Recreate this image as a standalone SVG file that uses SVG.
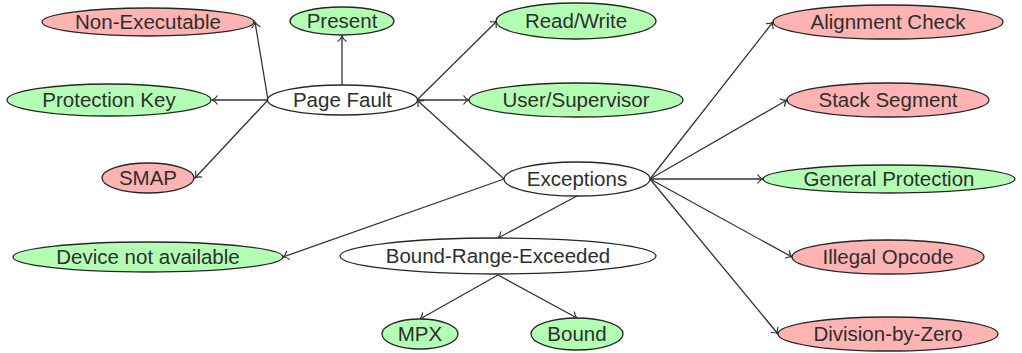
<svg xmlns="http://www.w3.org/2000/svg" width="1022" height="353" viewBox="0 0 1022 353">
<style>
.n ellipse{stroke:#262626;stroke-width:1.3}
.w ellipse{fill:#ffffff}
.r ellipse{fill:#ffb3b3}
.g ellipse{fill:#b3ffb3}
text{font-family:"Liberation Sans",Arial,sans-serif;font-size:20.5px;fill:#2e2e2e;text-anchor:middle}
#edges line{stroke:#333333;stroke-width:1.3;marker-end:url(#ah)}
</style>
<defs>
<marker id="ah" markerUnits="userSpaceOnUse" viewBox="-7 -5 9 10" refX="0" refY="0" markerWidth="9" markerHeight="10" orient="auto" overflow="visible">
<path d="M-5.5,-4.5 C-3.8,-1.8 -1.6,-0.5 0,0 C-1.6,0.5 -3.8,1.8 -5.5,4.5" fill="none" stroke="#333333" stroke-width="1.2"/>
</marker>
</defs>
<g id="edges">
<line x1="268" y1="100" x2="255" y2="22"/>
<line x1="268" y1="100" x2="212" y2="100"/>
<line x1="268" y1="100" x2="195" y2="178"/>
<line x1="342" y1="85" x2="342" y2="36"/>
<line x1="417" y1="100" x2="497" y2="21"/>
<line x1="417" y1="100" x2="469" y2="100"/>
<line x1="504" y1="179" x2="417" y2="100"/>
<line x1="504" y1="179" x2="283" y2="257"/>
<line x1="577" y1="196" x2="498" y2="238"/>
<line x1="650" y1="179" x2="773" y2="22"/>
<line x1="650" y1="179" x2="787" y2="100"/>
<line x1="650" y1="179" x2="763" y2="179"/>
<line x1="650" y1="179" x2="792" y2="257"/>
<line x1="650" y1="179" x2="778" y2="334"/>
<line x1="498" y1="275" x2="420" y2="319"/>
<line x1="498" y1="275" x2="577" y2="318"/>
</g>
<g id="non-executable" class="n r"><ellipse cx="148" cy="22" rx="106" ry="14"/><text x="148" y="29">Non-Executable</text></g>
<g id="present" class="n g"><ellipse cx="342" cy="21" rx="52" ry="14"/><text x="342" y="28">Present</text></g>
<g id="page-fault" class="n w"><ellipse cx="342.5" cy="100" rx="75" ry="15"/><text x="342.5" y="107">Page Fault</text></g>
<g id="protection-key" class="n g"><ellipse cx="109" cy="100" rx="102" ry="16"/><text x="109" y="107">Protection Key</text></g>
<g id="smap" class="n r"><ellipse cx="148" cy="178" rx="46" ry="15"/><text x="148" y="185">SMAP</text></g>
<g id="read-write" class="n g"><ellipse cx="576" cy="21" rx="80" ry="18"/><text x="576" y="28">Read/Write</text></g>
<g id="user-supervisor" class="n g"><ellipse cx="576" cy="100" rx="107" ry="17"/><text x="576" y="107">User/Supervisor</text></g>
<g id="exceptions" class="n w"><ellipse cx="577" cy="179" rx="73" ry="17"/><text x="577" y="186">Exceptions</text></g>
<g id="alignment-check" class="n r"><ellipse cx="888" cy="22" rx="115" ry="17"/><text x="888" y="29">Alignment Check</text></g>
<g id="stack-segment" class="n r"><ellipse cx="888" cy="100" rx="101" ry="17"/><text x="888" y="107">Stack Segment</text></g>
<g id="general-protection" class="n g"><ellipse cx="889" cy="179" rx="126" ry="14"/><text x="889" y="186">General Protection</text></g>
<g id="illegal-opcode" class="n r"><ellipse cx="888" cy="257" rx="96" ry="17"/><text x="888" y="264">Illegal Opcode</text></g>
<g id="division-by-zero" class="n r"><ellipse cx="888" cy="334" rx="110" ry="17"/><text x="888" y="341">Division-by-Zero</text></g>
<g id="device-not-available" class="n g"><ellipse cx="148" cy="257" rx="135" ry="15"/><text x="148" y="264">Device not available</text></g>
<g id="bound-range-exceeded" class="n w"><ellipse cx="498" cy="256" rx="158" ry="18"/><text x="498" y="263">Bound-Range-Exceeded</text></g>
<g id="mpx" class="n g"><ellipse cx="420" cy="334" rx="38" ry="15"/><text x="420" y="341">MPX</text></g>
<g id="bound" class="n g"><ellipse cx="577" cy="334" rx="46" ry="16"/><text x="577" y="341">Bound</text></g>
</svg>
